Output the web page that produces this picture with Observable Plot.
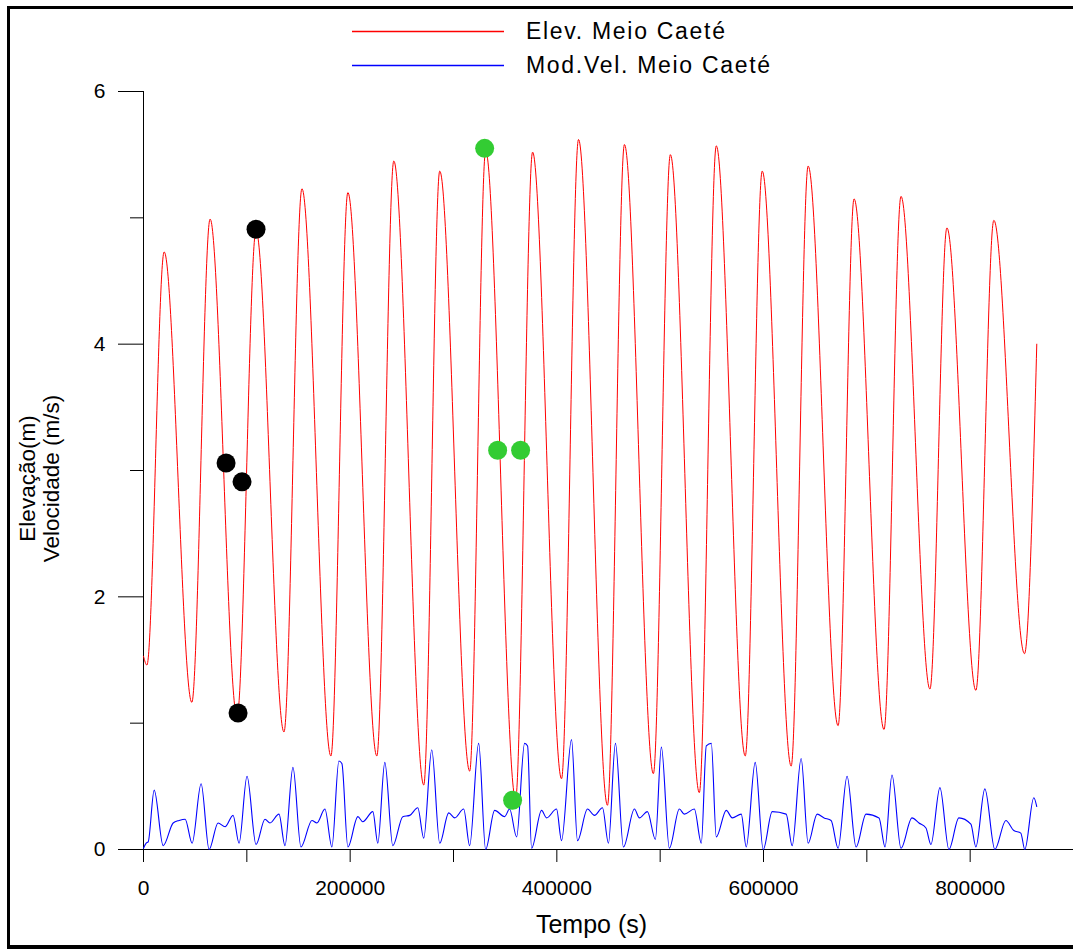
<!DOCTYPE html>
<html>
<head>
<meta charset="utf-8">
<script src="https://cdn.jsdelivr.net/npm/d3@7"></script>
<script src="https://cdn.jsdelivr.net/npm/@observablehq/plot@0.6"></script>
<style>
  html, body { margin: 0; padding: 0; background: #fff; overflow: hidden; }
  #wrap { position: relative; width: 1073px; height: 949px; font-family: "Liberation Sans", Arial, sans-serif; }
  #frame { position: absolute; left: 7px; top: 6px; width: 1100px; height: 936px;
           border-left: 3px solid #000; border-top: 3px solid #000; border-bottom: 4px solid #000; z-index: 5; pointer-events: none; }
  #legsvg { position: absolute; left: 0; top: 0; }
  .leg-text { position: absolute; left: 526px; font-size: 23px; letter-spacing: 1.7px; line-height: 1; color: #000; white-space: nowrap; }
  #chart { position: absolute; left: 0; top: 80px; }
</style>
</head>
<body>
<div id="wrap">
  <div id="legend"><svg id="legsvg" width="520" height="80"></svg></div>
  <div id="chart"></div>
  <div id="frame"></div>
</div>
<script>
// ---- data ----
const seriesNames = ["Elev. Meio Caeté", "Mod.Vel. Meio Caeté"];
const seriesColors = ["#ff0000", "#0000ff"];

const elevTime = [0, 3300, 20000, 46760, 64450, 90530, 108890, 135940, 153330, 181350, 197780, 225800, 242220, 271210, 286670, 315650, 331110, 360100, 376530, 404550, 420970, 448990, 465420, 493440, 509860, 537880, 554310, 582330, 598750, 626770, 643200, 672190, 687640, 716630, 733060, 761080, 777500, 805520, 822910, 852570, 864460];
const elevValue = [1.53, 1.46, 4.73, 1.165, 4.99, 1.05, 4.90, 0.93, 5.23, 0.74, 5.20, 0.74, 5.45, 0.51, 5.37, 0.62, 5.53, 0.40, 5.52, 0.56, 5.62, 0.35, 5.58, 0.60, 5.50, 0.45, 5.57, 0.74, 5.37, 0.66, 5.41, 0.98, 5.15, 0.95, 5.17, 1.27, 4.92, 1.26, 4.98, 1.55, 4.0];

const velTime = [0, 2610, 4540, 10340, 19030, 28700, 34490, 40290, 47050, 55750, 63480, 72180, 78940, 86670, 92470, 100190, 108890, 117590, 122420, 131110, 136910, 144640, 152370, 163000, 167830, 175560, 182320, 189090, 191980, 197780, 207440, 212270, 221940, 226770, 233530, 241260, 250920, 257690, 265420, 271210, 278940, 286670, 295370, 301170, 309860, 315650, 324350, 331110, 339810, 349470, 354310, 361070, 368800, 371700, 375560, 385220, 390060, 399720, 404550, 414210, 420010, 429670, 436430, 444160, 449960, 456720, 464450, 475080, 479910, 487640, 495370, 501170, 508900, 518560, 523390, 533050, 539820, 544650, 549480, 554310, 563970, 569770, 578460, 583290, 591990, 599720, 608410, 621940, 627740, 636430, 643200, 651890, 658650, 665420, 672180, 680880, 689580, 699240, 711800, 717600, 724350, 733050, 743680, 750450, 757210, 762040, 770740, 779440, 789090, 800690, 805520, 814220, 823890, 834510, 842230, 849000, 852860, 861560, 864460];
const velValue = [0.01, 0.05, 0.06, 0.47, 0.03, 0.21, 0.23, 0.24, 0.05, 0.52, 0.0, 0.21, 0.18, 0.27, 0.05, 0.58, 0.04, 0.24, 0.21, 0.28, 0.03, 0.65, 0.02, 0.23, 0.21, 0.32, 0.02, 0.70, 0.68, 0.02, 0.26, 0.22, 0.30, 0.05, 0.69, 0.03, 0.26, 0.27, 0.33, 0.09, 0.79, 0.05, 0.29, 0.25, 0.32, 0.03, 0.84, 0.0, 0.31, 0.26, 0.32, 0.10, 0.84, 0.82, 0.01, 0.31, 0.25, 0.32, 0.07, 0.87, 0.07, 0.32, 0.27, 0.33, 0.05, 0.84, 0.02, 0.32, 0.25, 0.30, 0.08, 0.81, 0.01, 0.32, 0.28, 0.32, 0.05, 0.82, 0.84, 0.10, 0.31, 0.25, 0.28, 0.02, 0.69, 0.0, 0.30, 0.28, 0.03, 0.72, 0.05, 0.28, 0.25, 0.23, 0.01, 0.58, 0.02, 0.28, 0.25, 0.02, 0.59, 0.01, 0.25, 0.21, 0.17, 0.04, 0.49, 0.0, 0.25, 0.20, 0.02, 0.48, 0.0, 0.23, 0.15, 0.13, 0.0, 0.41, 0.34];

const blackTime = [108890, 79900, 95360, 91500];
const blackValue = [4.91, 3.06, 2.91, 1.08];
const greenTime = [330150, 342710, 364930, 357210];
const greenValue = [5.55, 3.16, 3.16, 0.39];

const xMajorTicks = [0, 200000, 400000, 600000, 800000];
const xMinorTicks = [100000, 300000, 500000, 700000];
const yMajorTicks = [0, 2, 4, 6];
const yMinorTicks = [1, 3, 5];
const xLabel = "Tempo (s)";
const yLabel = "Elevação(m)\nVelocidade (m/s)";

// ---- build tables ----
const elev = elevTime.map((t, i) => ({t, v: elevValue[i]}));
const vel = velTime.map((t, i) => ({t, v: velValue[i]}));
const blackPts = blackTime.map((t, i) => ({t, v: blackValue[i]}));
const greenPts = greenTime.map((t, i) => ({t, v: greenValue[i]}));

// ---- legend (HTML, above the SVG) ----
const legend = document.getElementById("legend");
const legsvg = d3.select("#legsvg");
[31, 65].forEach((y, i) => {
  legsvg.append("line")
    .attr("x1", 352).attr("x2", 504).attr("y1", y + 0.5).attr("y2", y + 0.5)
    .attr("stroke", seriesColors[i]).attr("stroke-width", 1.3);
  const tx = document.createElement("div");
  tx.className = "leg-text";
  tx.style.top = (y - 11) + "px";
  tx.textContent = seriesNames[i];
  legend.appendChild(tx);
});

const fontFam = '"Liberation Sans", Arial, sans-serif';

const chart = Plot.plot({
  width: 1073,
  height: 869,
  marginLeft: 143,
  marginRight: 0,
  marginTop: 11,
  marginBottom: 100,
  style: {fontFamily: fontFam, fontSize: "21px", background: "transparent", color: "#000", overflow: "visible"},
  x: {domain: [0, 900000]},
  y: {domain: [0, 6]},
  marks: [
    Plot.axisY({ticks: yMajorTicks, tickSize: 25, tickPadding: 13, tickFormat: d => String(d), label: null, fontSize: 21, stroke: "#000"}),
    Plot.axisY({ticks: yMinorTicks, tickSize: 13, tickFormat: () => "", label: null, stroke: "#000"}),
    Plot.axisX({ticks: xMajorTicks.concat(xMinorTicks), tickSize: 13, tickPadding: 18,
      tickFormat: d => (xMajorTicks.includes(d) ? String(d) : ""), label: null, fontSize: 21, stroke: "#000"}),
    Plot.ruleX([0], {y1: 0, y2: 6, stroke: "#000", strokeWidth: 1}),
    Plot.ruleY([0], {x1: 0, x2: 900000, stroke: "#000", strokeWidth: 1.2}),
    Plot.line(elev, {x: "t", y: "v", stroke: seriesColors[0], strokeWidth: 1, curve: "monotone-x"}),
    Plot.line(vel, {x: "t", y: "v", stroke: seriesColors[1], strokeWidth: 1.1, curve: "monotone-x"}),
    Plot.dot(blackPts, {x: "t", y: "v", r: 9.5, fill: "#000", stroke: "none"}),
    Plot.dot(greenPts, {x: "t", y: "v", r: 9.5, fill: "#33cc33", stroke: "none"}),
    Plot.text([xLabel], {frameAnchor: "bottom", dx: -17, dy: 83, fontSize: 25, fill: "#000"}),
    Plot.text([yLabel], {frameAnchor: "left", textAnchor: "middle", dx: -104, dy: 8, rotate: -90, fontSize: 22.5, lineHeight: 1.05, fill: "#000"})
  ]
});
document.getElementById("chart").appendChild(chart);
</script>
</body>
</html>
